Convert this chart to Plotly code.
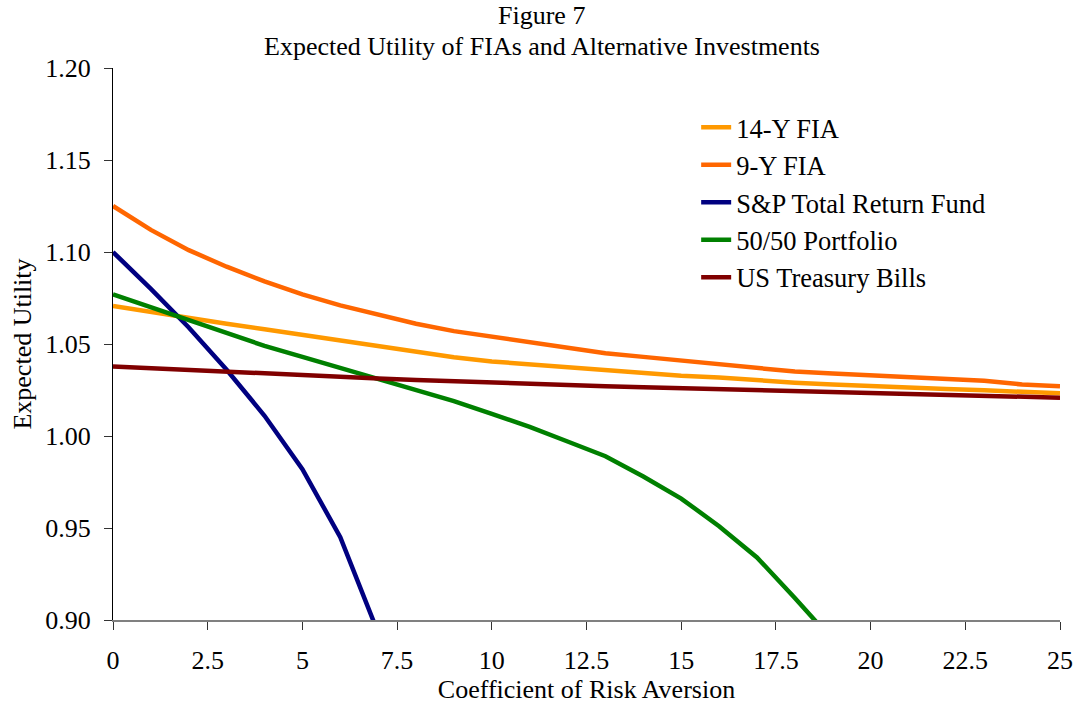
import plotly.graph_objects as go

x_vals = list(range(26))
fia14 = [1.0707, 1.0673, 1.064, 1.061, 1.058, 1.055, 1.052, 1.0485, 1.0455, 1.0428, 1.0405, 1.039, 1.037,
         1.0355, 1.034, 1.0328, 1.0318, 1.0302, 1.029, 1.028, 1.027, 1.026, 1.0255, 1.0248, 1.024, 1.0232]
fia9 = [1.125, 1.112, 1.101, 1.092, 1.084, 1.077, 1.071, 1.066, 1.061, 1.057, 1.054, 1.051, 1.048,
        1.045, 1.043, 1.041, 1.039, 1.037, 1.035, 1.034, 1.033, 1.032, 1.031, 1.030, 1.028, 1.027]
sp_x = [0, 1, 2, 3, 4, 5, 6, 7]
sp = [1.100, 1.080, 1.059, 1.036, 1.011, 0.982, 0.945, 0.893]
p5050_x = list(range(20))
p5050 = [1.077, 1.070, 1.063, 1.056, 1.049, 1.043, 1.037, 1.031, 1.025, 1.019, 1.012, 1.005, 0.997,
         0.989, 0.978, 0.966, 0.951, 0.934, 0.912, 0.889]
tbills = [1.0378, 1.0368, 1.0358, 1.0348, 1.0339, 1.033, 1.0321, 1.0313, 1.0305, 1.0297, 1.029, 1.0283,
          1.0277, 1.0271, 1.0265, 1.026, 1.0254, 1.0248, 1.0242, 1.0236, 1.023, 1.0225, 1.022, 1.0215,
          1.0211, 1.0208]

x_ticks = [0, 2.5, 5, 7.5, 10, 12.5, 15, 17.5, 20, 22.5, 25]
x_tick_labels = ["0", "2.5", "5", "7.5", "10", "12.5", "15", "17.5", "20", "22.5", "25"]
y_ticks = [0.90, 0.95, 1.00, 1.05, 1.10, 1.15, 1.20]
y_tick_labels = ["0.90", "0.95", "1.00", "1.05", "1.10", "1.15", "1.20"]

series = [
    ("14-Y FIA", x_vals, fia14, "#FF9900"),
    ("9-Y FIA", x_vals, fia9, "#FF6600"),
    ("S&P Total Return Fund", sp_x, sp, "#000080"),
    ("50/50 Portfolio", p5050_x, p5050, "#008000"),
    ("US Treasury Bills", x_vals, tbills, "#800000"),
]

FAM = "Liberation Serif, Times New Roman, serif"

fig = go.Figure()
for name, xs, ys, col in series:
    fig.add_trace(go.Scatter(x=xs, y=ys, mode="lines", name=name,
                             line=dict(color=col, width=4.5)))

fig.update_layout(
    width=1077, height=714,
    paper_bgcolor="white", plot_bgcolor="white",
    margin=dict(l=113, r=17, t=68, b=94, autoexpand=False),
    font=dict(family=FAM, size=26, color="black"),
    legend=dict(x=0.6158, y=0.9355, xanchor="left", yanchor="top",
                bgcolor="rgba(0,0,0,0)", font=dict(size=26.5), tracegroupgap=0),
    showlegend=True,
    annotations=[
        dict(text="Figure 7", xref="paper", yref="paper", x=0.453, y=1.0953,
             xanchor="center", yanchor="middle", showarrow=False,
             font=dict(family=FAM, size=26, color="black")),
        dict(text="Expected Utility of FIAs and Alternative Investments", xref="paper", yref="paper",
             x=0.453, y=1.0395, xanchor="center", yanchor="middle", showarrow=False,
             font=dict(family=FAM, size=26, color="black")),
    ],
)
fig.update_xaxes(range=[0, 25], tickvals=x_ticks, ticktext=x_tick_labels, automargin=False,
                 showgrid=False, zeroline=False, showline=True, linecolor="#808080", linewidth=2,
                 ticks="outside", ticklen=8, tickcolor="#333333", tickfont=dict(size=26),
                 ticklabelstandoff=8,
                 title=dict(text="Coefficient of Risk Aversion", standoff=0,
                            font=dict(size=26)))
fig.update_yaxes(range=[0.90, 1.20], tickvals=y_ticks, ticktext=y_tick_labels, automargin=False,
                 showgrid=False, zeroline=False, showline=True, linecolor="black", linewidth=1,
                 ticks="outside", ticklen=8, tickcolor="#333333", tickfont=dict(size=26),
                 ticklabelstandoff=8,
                 title=dict(text="Expected Utility", standoff=6, font=dict(size=26)))

fig.write_html("out.html", config={"displayModeBar": False},
               post_script="document.body.style.margin='0';")
